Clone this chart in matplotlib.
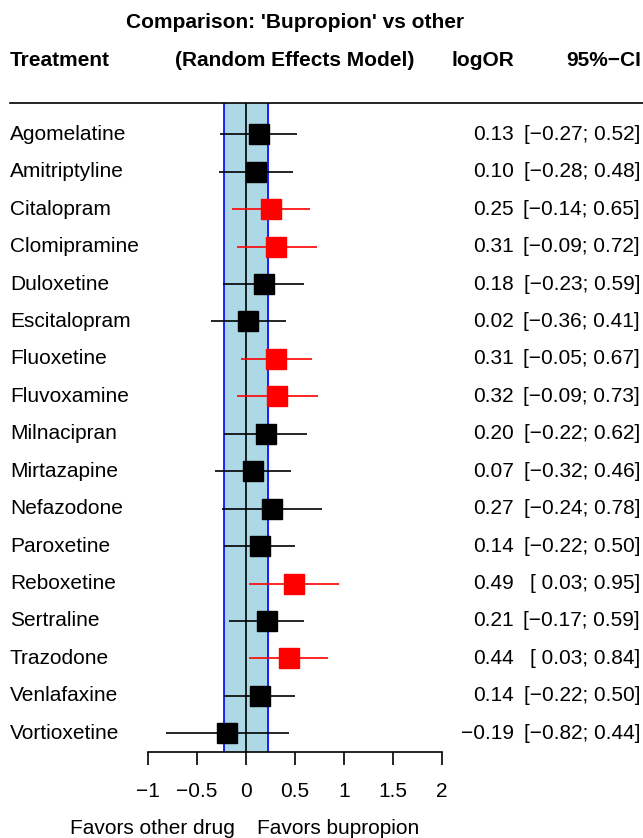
import matplotlib
matplotlib.use('Agg')
import matplotlib.pyplot as plt
from matplotlib.lines import Line2D

plt.rcParams['font.family'] = ['Liberation Sans', 'DejaVu Sans']

# ---- data ----
treatments = ["Agomelatine", "Amitriptyline", "Citalopram", "Clomipramine", "Duloxetine",
              "Escitalopram", "Fluoxetine", "Fluvoxamine", "Milnacipran", "Mirtazapine",
              "Nefazodone", "Paroxetine", "Reboxetine", "Sertraline", "Trazodone",
              "Venlafaxine", "Vortioxetine"]
log_or = [0.13, 0.10, 0.25, 0.31, 0.18, 0.02, 0.31, 0.32, 0.20, 0.07, 0.27, 0.14, 0.49,
          0.21, 0.44, 0.14, -0.19]
ci_lower = [-0.27, -0.28, -0.14, -0.09, -0.23, -0.36, -0.05, -0.09, -0.22, -0.32, -0.24,
            -0.22, 0.03, -0.17, 0.03, -0.22, -0.82]
ci_upper = [0.52, 0.48, 0.65, 0.72, 0.59, 0.41, 0.67, 0.73, 0.62, 0.46, 0.78, 0.50, 0.95,
            0.59, 0.84, 0.50, 0.44]
highlight = [False, False, True, True, False, False, True, True, False, False, False,
             False, True, False, True, False, False]
x_ticks = [-1, -0.5, 0, 0.5, 1, 1.5, 2]
x_ticklabels = ["\u22121", "\u22120.5", "0", "0.5", "1", "1.5", "2"]
band = 0.2231  # log(1.25)

W, H = 643, 838
fig = plt.figure(figsize=(W / 100, H / 100), dpi=100)
FS = 15


def fx(x):
    return x / W


def fy(y):
    return 1 - y / H


def fmt(v):
    s = f"{v:.2f}"
    return s.replace("-", "\u2212")


row_top, row_bot = 134.3, 733.3
n = len(treatments)
step = (row_bot - row_top) / (n - 1)
ax_top, ax_bot = 103.3, 751.7
ylo = 1 - (ax_bot - row_bot) / step
yhi = n + (row_top - ax_top) / step

ax = fig.add_axes([fx(148), fy(ax_bot), (442 - 148) / W, (ax_bot - ax_top) / H])
ax.set_xlim(-1, 2)
ax.set_ylim(ylo, yhi)
ax.patch.set_alpha(0)

ax.axvspan(-band, band, color="#ADD8E6", zorder=0)
ax.axvline(-band, color="blue", lw=1.2, zorder=1)
ax.axvline(band, color="blue", lw=1.2, zorder=1)
ax.axvline(0, color="black", lw=1.2, zorder=1)

for i, name in enumerate(treatments):
    y = n - i
    c = "red" if highlight[i] else "black"
    ax.hlines(y, ci_lower[i], ci_upper[i], color=c, lw=1.2, zorder=2)
    ax.plot(log_or[i], y, marker="s", ms=13.7, color=c, mec=c, zorder=3)
    ypx = row_top + i * step
    fig.text(fx(10), fy(ypx), name, ha="left", va="center", fontsize=FS)
    fig.text(fx(514), fy(ypx), fmt(log_or[i]), ha="right", va="center", fontsize=FS)
    lo = fmt(ci_lower[i])
    if ci_lower[i] >= 0:
        lo = " " + lo
    fig.text(fx(640), fy(ypx), f"[{lo}; {fmt(ci_upper[i])}]", ha="right", va="center",
             fontsize=FS)

for s in ["top", "left", "right"]:
    ax.spines[s].set_visible(False)
ax.spines["bottom"].set_bounds(-1, 2)
ax.spines["bottom"].set_linewidth(1.2)
ax.set_yticks([])
ax.set_xticks(x_ticks)
ax.set_xticklabels(x_ticklabels)
ax.tick_params(axis="x", direction="out", length=9.4, width=1.2, labelsize=FS, pad=12.5)

# header
fig.text(fx(295), fy(22), "Comparison: 'Bupropion' vs other", ha="center", va="center",
         fontsize=FS, fontweight="bold")
fig.text(fx(10), fy(60), "Treatment", ha="left", va="center", fontsize=FS, fontweight="bold")
fig.text(fx(295), fy(60), "(Random Effects Model)", ha="center", va="center", fontsize=FS,
         fontweight="bold")
fig.text(fx(514), fy(60), "logOR", ha="right", va="center", fontsize=FS, fontweight="bold")
fig.text(fx(641), fy(60), "95%\u2212CI", ha="right", va="center", fontsize=FS,
         fontweight="bold")
fig.add_artist(Line2D([fx(10), fx(643)], [fy(ax_top)] * 2, color="black", lw=1.2))

fig.text(fx(235), fy(828), "Favors other drug", ha="right", va="center", fontsize=FS)
fig.text(fx(257), fy(828), "Favors bupropion", ha="left", va="center", fontsize=FS)

fig.savefig("out.png", dpi=100, facecolor="white")
